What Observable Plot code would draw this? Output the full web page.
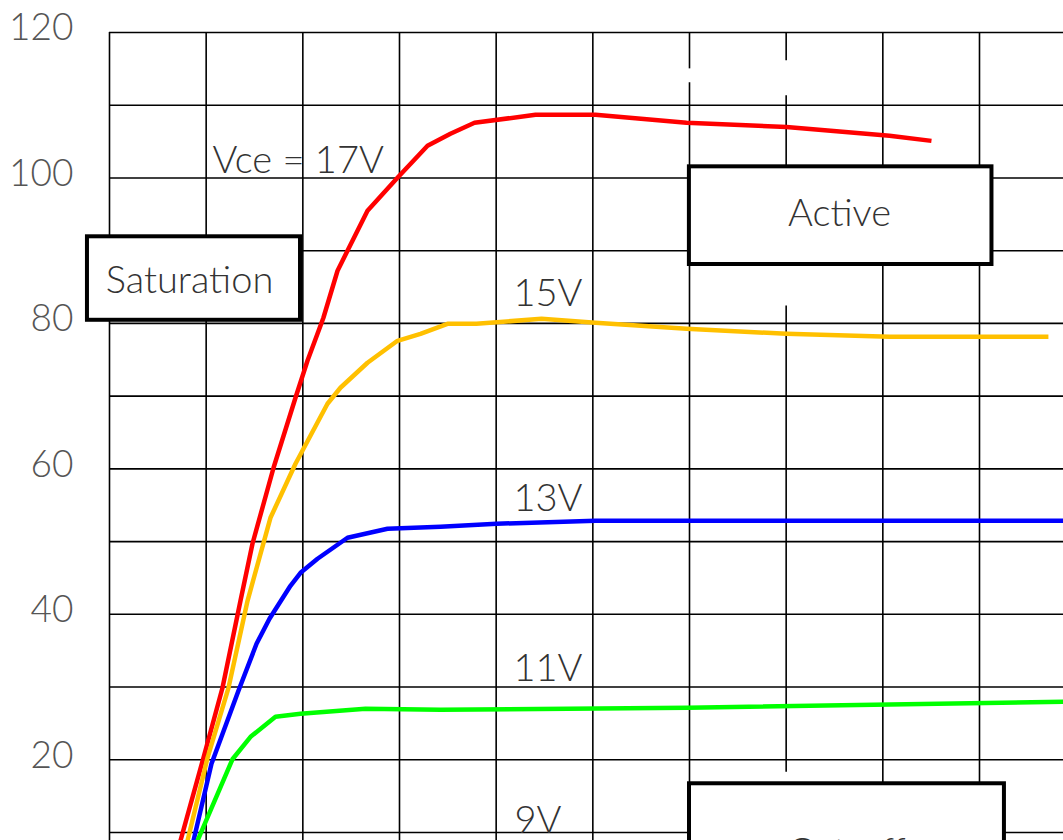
<!DOCTYPE html>
<html>
<head>
<meta charset="utf-8">
<script src="https://cdn.jsdelivr.net/npm/d3@7"></script>
<script src="https://cdn.jsdelivr.net/npm/@observablehq/plot@0.6"></script>
<style>
  html, body { margin: 0; padding: 0; background: #fff; overflow: hidden; width: 1063px; height: 840px; }
  #chart { width: 1063px; height: 840px; overflow: hidden; }
</style>
</head>
<body>
<div id="chart"></div>
<script>
// ---- data (x in grid divisions, y in chart units) ----
const seriesNames  = ["17V", "15V", "13V", "11V"];
const seriesColors = ["#ff0000", "#ffc000", "#0000ff", "#00ff00"];

const x17 = [0.734,0.972,1.169,1.355,1.479,1.697,1.924,2.048,2.213,2.359,2.462,2.669,2.979,3.290,3.527,3.776,4.407,5.027,5.969,7.003,8.069,8.503];
const y17 = [8.86,20.27,29.90,41.86,49.70,60.15,69.78,74.86,80.78,87.24,89.99,95.49,100.02,104.42,106.07,107.59,108.68,108.68,107.59,107.0,105.8,105.1];

const x15 = [0.807,1.014,1.231,1.428,1.665,1.924,2.255,2.389,2.669,2.979,3.217,3.496,3.796,4.469,5.027,5.969,7.003,8.069,9.713];
const y15 = [8.86,20.27,29.90,41.86,53.27,60.70,68.95,71.15,74.59,77.61,78.57,79.95,79.95,80.63,80.08,79.26,78.57,78.16,78.16];

const x13 = [0.869,1.055,1.334,1.521,1.655,1.872,1.976,2.152,2.462,2.876,3.424,4.003,5.027,9.869];
const y13 = [8.86,19.45,29.49,35.95,39.39,43.92,45.71,47.64,50.53,51.76,52.04,52.45,52.86,52.86];

const x11 = [0.910,1.272,1.459,1.717,1.976,2.648,3.424,5.982,9.869];
const y11 = [8.86,20.07,23.16,25.91,26.32,27.01,26.87,27.15,27.98];

const yTicks = [20, 40, 60, 80, 100, 120];
const yGrid  = [10, 20, 30, 40, 50, 60, 70, 80, 90, 100, 110, 120];

// vertical grid segments (x, from y, to y)
const vGridX  = [0, 1, 2, 3, 4, 5, 6, 6, 7, 7, 7, 8, 9];
const vGridY1 = [120, 120, 120, 120, 120, 120, 120, 113.1, 120, 111.3, 82.4, 120, 120];
const vGridY2 = [0, 0, 0, 0, 0, 0, 115.0, 0, 116.1, 101.5, 18.3, 0, 0];

// curve labels
const curveLabels = ["Vce = 17V", "15V", "13V", "11V", "9V"];
const curveLabelX = [1.066, 4.179, 4.179, 4.179, 4.19];
const curveLabelY = [100.71, 82.42, 54.23, 30.86, 10.0];

// region boxes
const regionLabels = ["Saturation", "Active", "Cut-off"];
const regionX1 = [-0.228, 5.999, 6.0];
const regionX2 = [1.976, 9.129, 9.258];
const regionY1 = [80.43, 88.10, 0];
const regionY2 = [91.91, 101.53, 16.70];
const regionTextX = [0.828, 7.552, 7.624];
const regionTextY = [84.21, 93.41, 5.56];

// ---- build tables ----
const xs = [x17, x15, x13, x11], ys = [y17, y15, y13, y11];
const curves = seriesNames.flatMap((s, i) => xs[i].map((x, j) => ({series: s, x, y: ys[i][j]})));
const vGrid = vGridX.map((x, i) => ({x, y1: vGridY1[i], y2: vGridY2[i]}));
const labels = curveLabels.map((t, i) => ({text: t, x: curveLabelX[i], y: curveLabelY[i]}));
const regions = regionLabels.map((t, i) => ({text: t, x1: regionX1[i], x2: regionX2[i], y1: regionY1[i], y2: regionY2[i], tx: regionTextX[i], ty: regionTextY[i]}));

const FONT = "Lato, 'DejaVu Sans', sans-serif";

const chart = Plot.plot({
  width: 1063,
  height: 840,
  marginLeft: 109,
  marginRight: 0,
  marginTop: 32,
  marginBottom: 0,
  x: {domain: [0, 9.869], axis: null},
  y: {domain: [8.9, 120], axis: null},
  color: {domain: seriesNames, range: seriesColors},
  style: {fontFamily: FONT, background: "#fff", overflow: "hidden"},
  marks: [
    Plot.ruleY(yGrid, {stroke: "#000", strokeWidth: 1.6, strokeOpacity: 1}),
    Plot.ruleX(vGrid, {x: "x", y1: "y1", y2: "y2", stroke: "#000", strokeWidth: 1.6}),
    Plot.line(curves, {x: "x", y: "y", z: "series", stroke: "series", strokeWidth: 4.5, strokeLinejoin: "round", strokeLinecap: "butt", curve: "linear"}),
    Plot.rect(regions, {x1: "x1", x2: "x2", y1: "y1", y2: "y2", fill: "#fff", stroke: "#000", strokeWidth: 4}),
    Plot.text(regions, {x: "tx", y: "ty", text: "text", textAnchor: "middle", lineAnchor: "bottom", fontSize: 38, fontWeight: 300, fill: "#333"}),
    Plot.text(labels, {x: "x", y: "y", text: "text", textAnchor: "start", lineAnchor: "bottom", fontSize: 38, fontWeight: 300, fill: "#333"}),
    Plot.axisY(yTicks, {anchor: "left", tickSize: 0, tickPadding: 36, fontSize: 37, fontWeight: 300, fill: "#555", dy: -4, label: null})
  ]
});

document.getElementById("chart").appendChild(chart);
</script>
</body>
</html>
